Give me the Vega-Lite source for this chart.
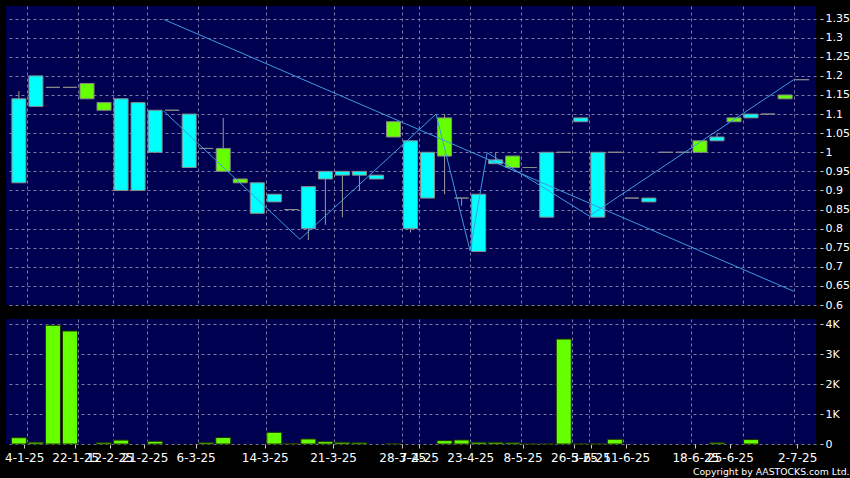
{
  "$schema": "https://vega.github.io/schema/vega-lite/v6.json",
  "background": "black",
  "padding": {"left": 4, "top": 6, "right": 0, "bottom": 0},
  "config": {
    "view": {"fill": "#000050", "stroke": null},
    "font": "DejaVu Sans",
    "axis": {"labelColor": "white", "labelFont": "DejaVu Sans", "gridColor": "#7a7aa6", "gridDash": [3, 3], "gridWidth": 1, "tickColor": "#cccccc", "domain": false, "title": null}
  },
  "title": {"text": "Copyright by AASTOCKS.com Ltd.", "orient": "bottom", "anchor": "end", "frame": "bounds", "color": "white", "fontSize": 9.3, "fontWeight": "normal", "font": "DejaVu Sans", "offset": 5},
  "datasets": {
    "candles": [
      {"i": 0, "open": 1.14, "high": 1.16, "low": 0.92, "close": 0.92, "volume": 210},
      {"i": 1, "open": 1.2, "high": 1.2, "low": 1.12, "close": 1.12, "volume": 60},
      {"i": 2, "open": 1.17, "high": 1.17, "low": 1.17, "close": 1.17, "volume": 3960},
      {"i": 3, "open": 1.17, "high": 1.17, "low": 1.17, "close": 1.17, "volume": 3770},
      {"i": 4, "open": 1.14, "high": 1.18, "low": 1.14, "close": 1.18, "volume": 0},
      {"i": 5, "open": 1.11, "high": 1.13, "low": 1.11, "close": 1.13, "volume": 45},
      {"i": 6, "open": 1.14, "high": 1.14, "low": 0.9, "close": 0.9, "volume": 130},
      {"i": 7, "open": 1.13, "high": 1.13, "low": 0.9, "close": 0.9, "volume": 0},
      {"i": 8, "open": 1.11, "high": 1.11, "low": 1.0, "close": 1.0, "volume": 90},
      {"i": 9, "open": 1.11, "high": 1.11, "low": 1.11, "close": 1.11, "volume": 0},
      {"i": 10, "open": 1.1, "high": 1.1, "low": 0.96, "close": 0.96, "volume": 0},
      {"i": 11, "open": 1.01, "high": 1.01, "low": 1.01, "close": 1.01, "volume": 45},
      {"i": 12, "open": 0.95, "high": 1.09, "low": 0.95, "close": 1.01, "volume": 214},
      {"i": 13, "open": 0.92, "high": 0.93, "low": 0.92, "close": 0.93, "volume": 0},
      {"i": 14, "open": 0.92, "high": 0.92, "low": 0.84, "close": 0.84, "volume": 0},
      {"i": 15, "open": 0.89, "high": 0.89, "low": 0.87, "close": 0.87, "volume": 390},
      {"i": 16, "open": 0.85, "high": 0.85, "low": 0.85, "close": 0.85, "volume": 20},
      {"i": 17, "open": 0.91, "high": 0.91, "low": 0.77, "close": 0.8, "volume": 167},
      {"i": 18, "open": 0.95, "high": 0.95, "low": 0.81, "close": 0.93, "volume": 80},
      {"i": 19, "open": 0.95, "high": 0.95, "low": 0.83, "close": 0.94, "volume": 57},
      {"i": 20, "open": 0.95, "high": 0.95, "low": 0.9, "close": 0.94, "volume": 40},
      {"i": 21, "open": 0.94, "high": 0.94, "low": 0.93, "close": 0.93, "volume": 0},
      {"i": 22, "open": 1.04, "high": 1.08, "low": 1.04, "close": 1.08, "volume": 15},
      {"i": 23, "open": 1.03, "high": 1.03, "low": 0.79, "close": 0.8, "volume": 0},
      {"i": 24, "open": 1.0, "high": 1.0, "low": 0.88, "close": 0.88, "volume": 0},
      {"i": 25, "open": 0.99, "high": 1.1, "low": 0.89, "close": 1.09, "volume": 113},
      {"i": 26, "open": 0.88, "high": 0.88, "low": 0.86, "close": 0.88, "volume": 134},
      {"i": 27, "open": 0.89, "high": 0.89, "low": 0.74, "close": 0.74, "volume": 57},
      {"i": 28, "open": 0.98, "high": 1.0, "low": 0.97, "close": 0.97, "volume": 55},
      {"i": 29, "open": 0.96, "high": 0.99, "low": 0.96, "close": 0.99, "volume": 40},
      {"i": 30, "open": 0.96, "high": 0.96, "low": 0.96, "close": 0.96, "volume": 5},
      {"i": 31, "open": 1.0, "high": 1.0, "low": 0.83, "close": 0.83, "volume": 5},
      {"i": 32, "open": 1.0, "high": 1.0, "low": 1.0, "close": 1.0, "volume": 3500},
      {"i": 33, "open": 1.09, "high": 1.09, "low": 1.08, "close": 1.08, "volume": 5},
      {"i": 34, "open": 1.0, "high": 1.0, "low": 0.83, "close": 0.83, "volume": 5},
      {"i": 35, "open": 1.0, "high": 1.0, "low": 1.0, "close": 1.0, "volume": 157},
      {"i": 36, "open": 0.88, "high": 0.88, "low": 0.88, "close": 0.88, "volume": 0},
      {"i": 37, "open": 0.88, "high": 0.88, "low": 0.87, "close": 0.87, "volume": 0},
      {"i": 38, "open": 1.0, "high": 1.0, "low": 1.0, "close": 1.0, "volume": 0},
      {"i": 39, "open": 1.0, "high": 1.0, "low": 1.0, "close": 1.0, "volume": 0},
      {"i": 40, "open": 1.0, "high": 1.03, "low": 1.0, "close": 1.03, "volume": 0},
      {"i": 41, "open": 1.04, "high": 1.05, "low": 1.03, "close": 1.03, "volume": 40},
      {"i": 42, "open": 1.08, "high": 1.09, "low": 1.08, "close": 1.09, "volume": 0},
      {"i": 43, "open": 1.1, "high": 1.1, "low": 1.09, "close": 1.09, "volume": 147},
      {"i": 44, "open": 1.1, "high": 1.1, "low": 1.1, "close": 1.1, "volume": 0},
      {"i": 45, "open": 1.14, "high": 1.15, "low": 1.14, "close": 1.15, "volume": 0},
      {"i": 46, "open": 1.19, "high": 1.19, "low": 1.19, "close": 1.19, "volume": 0}
    ],
    "trend": [
      {"i": 8.5, "p": 1.348},
      {"i": 45.5, "p": 0.636}
    ],
    "zigzag": [
      {"i": 8.5, "p": 1.108},
      {"i": 16.5, "p": 0.772},
      {"i": 24.5, "p": 1.1},
      {"i": 26.5, "p": 0.742},
      {"i": 27.5, "p": 0.999},
      {"i": 33.5, "p": 0.833},
      {"i": 45.5, "p": 1.19}
    ]
  },
  "spacing": 8,
  "vconcat": [
    {
      "width": 810,
      "height": 299,
      "encoding": {
        "x": {"field": "i", "type": "quantitative", "scale": {"domain": [-0.464, 46.52], "nice": false, "zero": false},
          "axis": {"values": [0.5, 3.5, 5.5, 7.5, 10.5, 14.5, 18.5, 22.5, 23.5, 26.5, 29.5, 32.5, 33.5, 35.5, 39.5, 42.5, 45.5], "labels": false, "ticks": false, "grid": true}}
      },
      "layer": [
        {
          "data": {"name": "candles"},
          "mark": {"type": "rule", "color": "#9a9a9a", "strokeWidth": 1},
          "encoding": {
            "y": {"field": "low", "type": "quantitative", "scale": {"domain": [0.6, 1.383], "nice": false, "zero": false},
              "axis": {"orient": "right", "values": [0.6, 0.65, 0.7, 0.75, 0.8, 0.85, 0.9, 0.95, 1, 1.05, 1.1, 1.15, 1.2, 1.25, 1.3, 1.35], "format": "~g", "offset": 4, "tickSize": 3, "labelPadding": 2, "labelFontSize": 11, "labelOverlap": false, "grid": true}},
            "y2": {"field": "high"}
          }
        },
        {
          "data": {"name": "candles"},
          "mark": {"type": "bar", "width": 14, "stroke": "#8a8a8a", "strokeWidth": 1},
          "encoding": {
            "y": {"field": "open", "type": "quantitative", "scale": {"domain": [0.6, 1.383], "nice": false, "zero": false},
              "axis": {"orient": "right", "values": [0.6, 0.65, 0.7, 0.75, 0.8, 0.85, 0.9, 0.95, 1, 1.05, 1.1, 1.15, 1.2, 1.25, 1.3, 1.35], "format": "~g", "offset": 4, "tickSize": 3, "labelPadding": 2, "labelFontSize": 11, "labelOverlap": false, "grid": true}},
            "y2": {"field": "close"},
            "fill": {"condition": {"test": "datum.close > datum.open", "value": "#66ff00"}, "value": "#00ffff"}
          }
        },
        {
          "data": {"name": "trend"},
          "mark": {"type": "line", "color": "#3d9be0", "strokeWidth": 1},
          "encoding": {
            "y": {"field": "p", "type": "quantitative", "scale": {"domain": [0.6, 1.383], "nice": false, "zero": false},
              "axis": {"orient": "right", "values": [0.6, 0.65, 0.7, 0.75, 0.8, 0.85, 0.9, 0.95, 1, 1.05, 1.1, 1.15, 1.2, 1.25, 1.3, 1.35], "format": "~g", "offset": 4, "tickSize": 3, "labelPadding": 2, "labelFontSize": 11, "labelOverlap": false, "grid": true}}
          }
        },
        {
          "data": {"name": "zigzag"},
          "mark": {"type": "line", "color": "#3d9be0", "strokeWidth": 1},
          "encoding": {
            "y": {"field": "p", "type": "quantitative", "scale": {"domain": [0.6, 1.383], "nice": false, "zero": false},
              "axis": {"orient": "right", "values": [0.6, 0.65, 0.7, 0.75, 0.8, 0.85, 0.9, 0.95, 1, 1.05, 1.1, 1.15, 1.2, 1.25, 1.3, 1.35], "format": "~g", "offset": 4, "tickSize": 3, "labelPadding": 2, "labelFontSize": 11, "labelOverlap": false, "grid": true}}
          }
        }
      ]
    },
    {
      "width": 810,
      "height": 125,
      "data": {"name": "candles"},
      "transform": [{"filter": "datum.volume > 0"}],
      "encoding": {
        "y": {"field": "volume", "type": "quantitative", "scale": {"domain": [0, 4170], "nice": false, "zero": true},
          "axis": {"orient": "right", "values": [0, 1000, 2000, 3000, 4000], "labelExpr": "datum.value == 0 ? '0' : (datum.value / 1000) + 'K'", "offset": 4, "tickSize": 3, "labelPadding": 2, "labelFontSize": 11, "labelOverlap": false, "grid": true}}
      },
      "layer": [
        {
          "mark": {"type": "bar", "width": 15, "color": "#66ff00"},
          "encoding": {
            "x": {"field": "i", "type": "quantitative", "scale": {"domain": [-0.464, 46.52], "nice": false, "zero": false},
              "axis": {"orient": "bottom", "values": [0.5, 3.5, 5.5, 7.5, 10.5, 14.5, 18.5, 22.5, 23.5, 26.5, 29.5, 32.5, 33.5, 35.5, 39.5, 42.5, 45.5], "labels": false, "ticks": false, "grid": true}}
          }
        },
        {
          "mark": {"type": "bar", "width": 15, "filled": false, "color": "#1e3300", "strokeWidth": 1},
          "encoding": {
            "x": {"field": "i", "type": "quantitative", "scale": {"domain": [-0.464, 46.52], "nice": false, "zero": false},
              "axis": {"orient": "bottom", "values": [0.31, 3.31, 5.34, 7.37, 10.38, 14.44, 18.45, 22.51, 23.49, 26.51, 29.58, 32.6, 33.58, 35.67, 39.73, 41.76, 45.71],
                "labelExpr": "['4-1-25','22-1-25','12-2-25','21-2-25','6-3-25','14-3-25','21-3-25','28-3-25','7-4-25','23-4-25','8-5-25','26-5-25','3-6-25','11-6-25','18-6-25','25-6-25','2-7-25'][indexof([0.31, 3.31, 5.34, 7.37, 10.38, 14.44, 18.45, 22.51, 23.49, 26.51, 29.58, 32.6, 33.58, 35.67, 39.73, 41.76, 45.71], datum.value)]",
                "grid": false, "tickSize": 4, "labelFontSize": 12, "labelOverlap": false, "labelFlush": false, "labelPadding": 4, "labelBound": false}}
          }
        }
      ],
      "resolve": {"axis": {"x": "independent"}}
    }
  ]
}
